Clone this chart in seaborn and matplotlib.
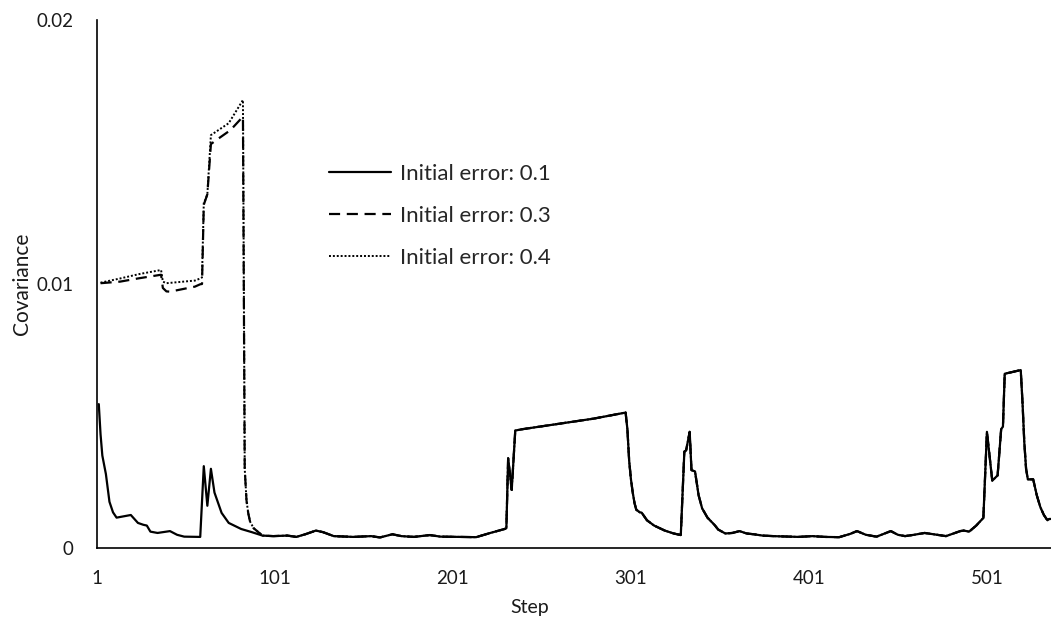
#!/usr/bin/env python3

import numpy as np
import pandas as pd
import seaborn as sns
import matplotlib.pyplot as plt

# covariance values are in units of 1e-3
steps_01 = [2, 3, 4, 6, 8, 10, 12, 16, 20, 22, 24, 27, 29, 31, 35, 42, 46, 50, 59,
            61, 63, 65, 67, 71, 75, 82, 88, 94, 100, 108, 113, 118, 124, 128, 134,
            145, 155, 160, 167, 172, 179, 188, 194, 205, 214, 222, 230, 231, 232,
            234, 236, 240, 260, 280, 298, 299, 300, 301, 302, 303, 304, 306, 307,
            310, 314, 320, 325, 329, 331, 332, 334, 335, 337, 339, 341, 344, 348,
            350, 354, 358, 362, 366, 370, 375, 381, 395, 403, 410, 418, 424, 428,
            433, 439, 447, 451, 455, 460, 466, 471, 478, 486, 488, 491, 495, 499,
            501, 504, 507, 509, 510, 511, 520, 521, 522, 523, 524, 527, 529, 531,
            533, 535, 536, 537]
cov_01 = [5.45, 4.3, 3.5, 2.8, 1.75, 1.35, 1.15, 1.2, 1.25, 1.1, 0.95, 0.88, 0.85,
          0.62, 0.57, 0.64, 0.5, 0.43, 0.42, 3.1, 1.6, 3.0, 2.1, 1.33, 0.95, 0.72,
          0.6, 0.47, 0.45, 0.47, 0.42, 0.52, 0.66, 0.6, 0.45, 0.42, 0.45, 0.4, 0.52,
          0.45, 0.42, 0.49, 0.43, 0.42, 0.41, 0.57, 0.72, 0.75, 3.4, 2.2, 4.45, 4.5,
          4.7, 4.9, 5.13, 4.5, 3.3, 2.6, 2.1, 1.7, 1.45, 1.35, 1.34, 1.05, 0.85,
          0.66, 0.55, 0.49, 3.65, 3.7, 4.4, 2.95, 2.9, 2.0, 1.5, 1.15, 0.87, 0.7,
          0.55, 0.57, 0.64, 0.55, 0.52, 0.47, 0.45, 0.42, 0.45, 0.42, 0.41, 0.53,
          0.64, 0.5, 0.43, 0.64, 0.5, 0.45, 0.5, 0.57, 0.52, 0.45, 0.64, 0.66, 0.62,
          0.85, 1.14, 4.4, 2.55, 2.75, 4.5, 4.6, 6.6, 6.74, 5.5, 4.0, 3.0, 2.6, 2.6,
          2.0, 1.55, 1.25, 1.05, 1.1, 1.1]

# early part of the larger initial errors, after step 93 they follow the 0.1 run
steps_03 = [3, 14, 24, 36, 37, 38, 40, 42, 56, 59, 60, 61, 62, 63, 65, 68, 76, 83,
            84, 85, 86, 87, 89, 92]
cov_03 = [10.03, 10.09, 10.21, 10.34, 10.35, 9.85, 9.72, 9.71, 9.9, 9.99, 10.0,
          13.0, 13.2, 13.4, 15.3, 15.45, 15.83, 16.34, 3.0, 1.8, 1.31, 1.0, 0.75, 0.58]

steps_04 = [3, 14, 25, 37, 38, 40, 56, 59, 60, 61, 62, 63, 65, 75, 83,
            84, 85, 86, 87, 89, 92]
cov_04 = [10.05, 10.21, 10.38, 10.53, 10.09, 10.03, 10.13, 10.21, 10.25, 13.1,
          13.2, 13.4, 15.64, 16.09, 16.97, 3.0, 1.8, 1.31, 1.0, 0.75, 0.58]

x_ticks = [1, 101, 201, 301, 401, 501]
y_ticks = [0, 0.01, 0.02]
y_tick_labels = ['0', '0.01', '0.02']

tail = [i for i, s in enumerate(steps_01) if s >= 94]
df01 = pd.DataFrame({'step': steps_01, 'cov': np.array(cov_01) * 1e-3})
df03 = pd.DataFrame({'step': steps_03 + [steps_01[i] for i in tail],
                     'cov': np.array(cov_03 + [cov_01[i] for i in tail]) * 1e-3})
df04 = pd.DataFrame({'step': steps_04 + [steps_01[i] for i in tail],
                     'cov': np.array(cov_04 + [cov_01[i] for i in tail]) * 1e-3})

sns.set_style('white')
plt.rcParams['font.family'] = ['Lato', 'DejaVu Sans']

fig = plt.figure(figsize=(10.51, 6.22), dpi=100)
ax = fig.add_axes([97 / 1051, 74 / 622, 954 / 1051, 528 / 622])

sns.lineplot(data=df03, x='step', y='cov', ax=ax, color='black', lw=1.6,
             linestyle=(0, (5, 3)), label='Initial error: 0.3')
sns.lineplot(data=df04, x='step', y='cov', ax=ax, color='black', lw=1.4,
             linestyle=(0, (1, 1)), label='Initial error: 0.4')
sns.lineplot(data=df01, x='step', y='cov', ax=ax, color='black', lw=1.6,
             label='Initial error: 0.1')

ax.set_xlim(1, 537)
ax.set_ylim(0, 0.02)
ax.set_xticks(x_ticks)
ax.set_yticks(y_ticks)
ax.set_yticklabels(y_tick_labels)
ax.tick_params(length=0, labelsize=13.5, colors='#1a1a1a', pad=17)
ax.tick_params(axis='x', pad=16)

for side in ['top', 'right']:
    ax.spines[side].set_visible(False)
for side in ['left', 'bottom']:
    ax.spines[side].set_color('black')
    ax.spines[side].set_linewidth(1.2)

ax.set_xlabel('Step', fontsize=14, color='#1a1a1a')
ax.set_ylabel('Covariance', fontsize=15, color='#1a1a1a')
ax.xaxis.set_label_coords((530 - 97) / 954, -0.096)
ax.yaxis.set_label_coords(-65 / 954, 0.5)

handles, labels = ax.get_legend_handles_labels()
order = [2, 0, 1]
ax.legend([handles[i] for i in order], [labels[i] for i in order],
          loc='upper left', bbox_to_anchor=(0.222, 0.766), frameon=False,
          fontsize=16, handlelength=2.8, handletextpad=0.4, labelspacing=1.0)

plt.savefig('out.png', dpi=100)
plt.close()
